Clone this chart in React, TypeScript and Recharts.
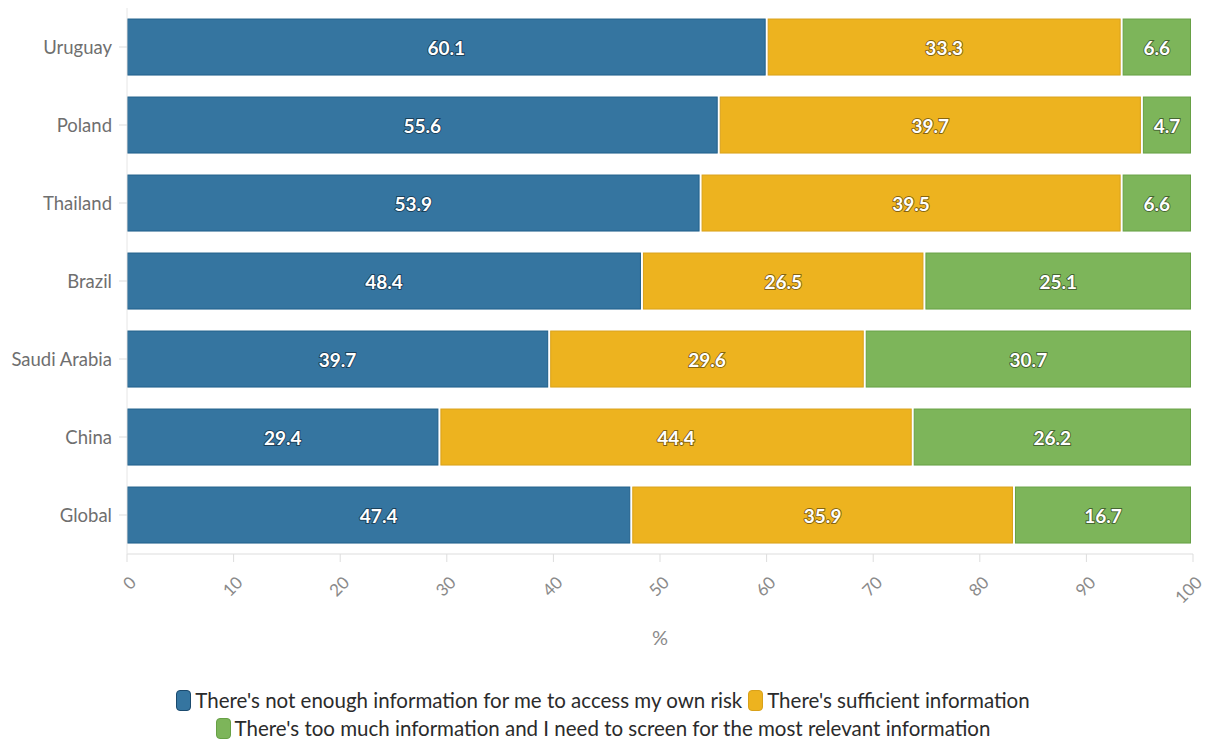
import React from "react";
import {
  Bar,
  BarChart,
  LabelList,
  XAxis,
  YAxis,
} from "recharts";

const countries = ["Uruguay", "Poland", "Thailand", "Brazil", "Saudi Arabia", "China", "Global"];
const notEnough = [60.1, 55.6, 53.9, 48.4, 39.7, 29.4, 47.4];
const sufficient = [33.3, 39.7, 39.5, 26.5, 29.6, 44.4, 35.9];
const tooMuch = [6.6, 4.7, 6.6, 25.1, 30.7, 26.2, 16.7];
const xTicks = [0, 10, 20, 30, 40, 50, 60, 70, 80, 90, 100];

const seriesNames = [
  "There's not enough information for me to access my own risk",
  "There's sufficient information",
  "There's too much information and I need to screen for the most relevant information",
];
const fills = ["#3575a0", "#edb31f", "#7db55a"];
const edges = ["#1f5f8a", "#d9a11a", "#67a045"];

const data = countries.map((c, i) => ({
  country: c,
  a: notEnough[i],
  b: sufficient[i],
  c: tooMuch[i],
}));

const FONT = "Lato, 'Open Sans', sans-serif";

function Segment(props: any) {
  const { x, y, width, height, fill, stroke } = props;
  const w = Math.max(0, width - 2);
  return (
    <rect
      x={x + 0.5}
      y={y + 0.5}
      width={Math.max(0, w - 1)}
      height={height - 1}
      fill={fill}
      stroke={stroke}
      strokeWidth={1}
    />
  );
}

function ValueLabel(props: any) {
  const { x, y, width, height, value } = props;
  return (
    <text
      x={x + (width - 2) / 2}
      y={y + height / 2}
      textAnchor="middle"
      dominantBaseline="central"
      fill="#fff"
      stroke="rgba(0,0,0,0.45)"
      strokeWidth={2}
      paintOrder="stroke"
      fontFamily={FONT}
      fontWeight={700}
      fontSize={19}
    >
      {Number(value).toFixed(1)}
    </text>
  );
}

function XTick(props: any) {
  const { x, y, payload } = props;
  return (
    <g transform={`translate(${x},${y + 8})`}>
      <text
        transform="rotate(-45)"
        textAnchor="end"
        dominantBaseline="central"
        fill="#8a8a8a"
        fontFamily={FONT}
        fontSize={17}
        dx={-1}
        dy={9}
      >
        {payload.value}
      </text>
    </g>
  );
}

function LegendItem({ i }: { i: number }) {
  return (
    <span style={{ display: "inline-flex", alignItems: "center", margin: "0 3px", height: 28, verticalAlign: "top" }}>
      <span
        style={{
          display: "inline-block",
          width: 13,
          height: 19,
          borderRadius: 4,
          background: fills[i],
          border: `1.5px solid ${i === 0 ? "#1b4a6e" : edges[i]}`,
          marginRight: 4,
        }}
      />
      {seriesNames[i]}
    </span>
  );
}

export default function App() {
  return (
    <div style={{ position: "absolute", left: 0, top: 0, width: 1206, height: 745, background: "#fff" }}>
      <BarChart
        width={1206}
        height={660}
        data={data}
        layout="vertical"
        margin={{ top: 8, right: 13, bottom: 0, left: 0 }}
        barCategoryGap="13.5%"
      >
        <XAxis
          type="number"
          domain={[0, 100]}
          ticks={xTicks}
          interval={0}
          height={106}
          stroke="#dddddd"
          tickLine={{ stroke: "#dddddd" }}
          tickSize={8}
          tick={<XTick />}
          label={{
            value: "%",
            position: "insideBottom",
            offset: 15,
            fill: "#8a8a8a",
            fontSize: 20,
            fontFamily: FONT,
          }}
        />
        <YAxis
          type="category"
          dataKey="country"
          width={127}
          stroke="#e6e6e6"
          tickLine={{ stroke: "#dddddd" }}
          tickSize={8}
          tick={{ fill: "#6f6f6f", fontSize: 18.5, fontFamily: FONT, dx: -5 }}
        />
        {(["a", "b", "c"] as const).map((k, i) => (
          <Bar
            key={k}
            dataKey={k}
            stackId="s"
            fill={fills[i]}
            stroke={edges[i]}
            shape={<Segment />}
            isAnimationActive={false}
          >
            <LabelList dataKey={k} content={<ValueLabel />} />
          </Bar>
        ))}
      </BarChart>
      <div
        style={{
          position: "absolute",
          left: 0,
          top: 686,
          width: 1206,
          textAlign: "center",
          fontFamily: FONT,
          fontSize: 20.5,
          color: "#2b2b2b",
          lineHeight: "28px",
        }}
      >
        <div style={{ height: 28 }}>
          <LegendItem i={0} />
          <LegendItem i={1} />
        </div>
        <div style={{ height: 28 }}>
          <LegendItem i={2} />
        </div>
      </div>
    </div>
  );
}
